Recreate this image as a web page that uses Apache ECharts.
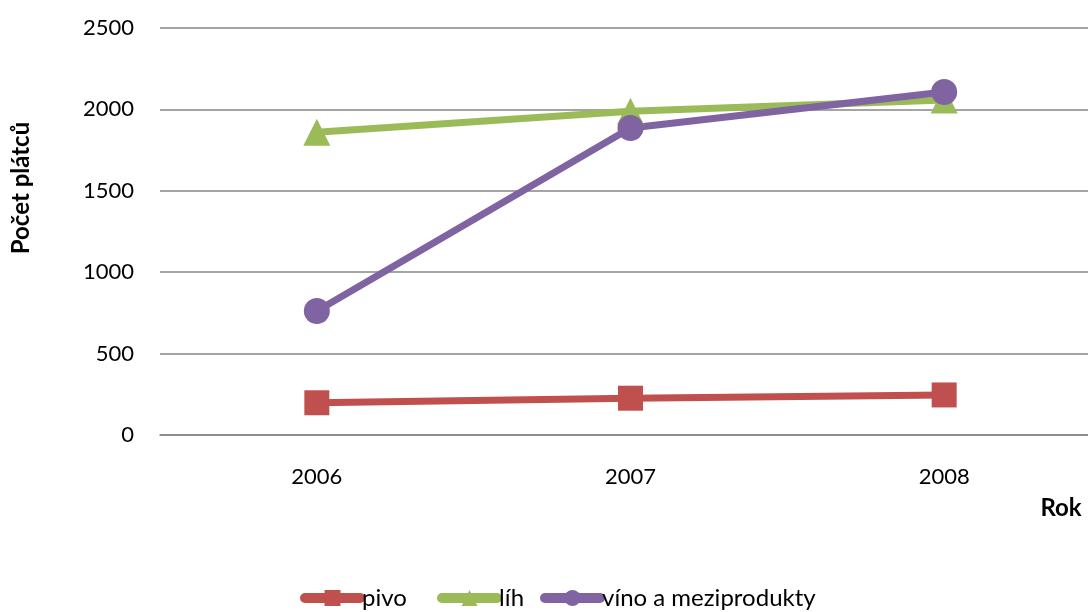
<!DOCTYPE html>
<html>
<head>
<meta charset="utf-8">
<script src="https://cdn.jsdelivr.net/npm/echarts@6/dist/echarts.min.js"></script>
<style>
  html, body { margin: 0; padding: 0; background: #fff; overflow: hidden; width: 1088px; height: 612px; }
  #chart { width: 1101px; height: 612px; }
</style>
</head>
<body>
<div id="chart"></div>
<script>
// Počet plátců spotřební daně podle druhu alkoholu
const years = ['2006', '2007', '2008'];
const seriesNames = ['pivo', 'líh', 'víno a meziprodukty'];
const pivo = [198, 226, 246];
const lih = [1860, 1988, 2058];
const vino = [762, 1886, 2107];
const yTicks = { min: 0, max: 2500, step: 500 };

const FONT = 'Lato, "Open Sans", sans-serif';
const GRID = '#868686';

function lineSeries(name, data, color, symbol, size) {
  return {
    name: name,
    type: 'line',
    data: data,
    symbol: symbol,
    symbolSize: size,
    showSymbol: true,
    lineStyle: { color: color, width: 7 },
    itemStyle: { color: color },
    emphasis: { disabled: true },
    animation: false
  };
}

// one legend block per series so each entry can sit at its own offset
const legendLefts = [295, 432, 535];
const legends = seriesNames.map(function (name, i) {
  return {
    bottom: -3,
    left: legendLefts[i],
    itemWidth: 55,
    itemHeight: 20,
    lineStyle: { width: 10, cap: 'round' },
    textStyle: { fontSize: 24, color: '#000', fontFamily: FONT, padding: [0, 0, 0, -3] },
    data: [name]
  };
});

const chart = echarts.init(document.getElementById('chart'));
chart.setOption({
  backgroundColor: '#ffffff',
  textStyle: { fontFamily: FONT },
  grid: { left: 160, top: 28, right: 0, bottom: 177 },
  xAxis: {
    type: 'category',
    data: years,
    boundaryGap: true,
    axisLine: { show: true, lineStyle: { color: GRID, width: 1.5 } },
    axisTick: { show: false },
    axisLabel: { margin: 31, fontSize: 22, color: '#000', fontFamily: FONT }
  },
  yAxis: {
    type: 'value',
    min: yTicks.min,
    max: yTicks.max,
    interval: yTicks.step,
    axisLine: { show: false },
    axisTick: { show: false },
    axisLabel: {
      margin: 26, fontSize: 22, color: '#000', fontFamily: FONT,
      formatter: function (v) { return String(v); }
    },
    splitLine: { lineStyle: { color: GRID, width: 1.5 } }
  },
  legend: legends,
  graphic: [
    {
      type: 'text',
      x: 21, y: 188,
      rotation: Math.PI / 2,
      style: {
        text: 'Počet plátců',
        fontSize: 24,
        fontWeight: 'bold',
        fontFamily: FONT,
        fill: '#000',
        align: 'center',
        verticalAlign: 'middle'
      }
    },
    {
      type: 'text',
      x: 1061, y: 508,
      style: {
        text: 'Rok',
        fontSize: 24,
        fontWeight: 'bold',
        fontFamily: FONT,
        fill: '#000',
        align: 'center',
        verticalAlign: 'middle'
      }
    }
  ],
  series: [
    lineSeries(seriesNames[0], pivo, '#C0504D', 'rect', 25),
    lineSeries(seriesNames[1], lih, '#9BBB59', 'triangle', 27),
    lineSeries(seriesNames[2], vino, '#8064A2', 'circle', 26)
  ]
});
</script>
</body>
</html>
